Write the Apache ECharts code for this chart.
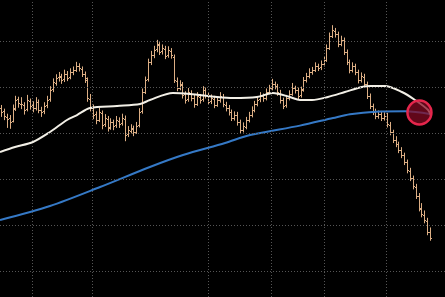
<!DOCTYPE html>
<html>
<head>
<meta charset="utf-8">
<script src="https://cdn.jsdelivr.net/npm/echarts@6/dist/echarts.min.js"></script>
<style>html,body{margin:0;padding:0;background:#000;}#c{width:445px;height:297px;}</style>
</head>
<body>
<div id="c"></div>
<script>
// Daily OHLC bars (bar index 0..149)
const opens = [135.6,134.9,133.6,133.3,132.8,135.4,137.5,136.4,136.2,135.3,137.1,136.2,135.6,136.8,135.0,134.8,136.1,137.4,139.6,141.0,
142.2,142.4,141.8,142.9,142.3,143.3,143.9,144.6,144.1,142.9,141.6,137.5,135.6,134.2,133.0,134.5,132.0,133.2,131.4,132.4,
131.8,132.8,132.2,133.2,129.8,130.6,131.0,130.4,131.8,134.8,139.1,141.8,145.5,147.0,148.3,149.3,147.9,148.5,147.0,148.0,
146.6,141.5,140.0,140.6,138.5,137.4,138.8,137.8,136.5,138.0,137.4,139.4,138.3,137.0,137.6,136.3,137.2,138.0,136.3,135.6,
134.6,133.3,134.1,132.4,130.8,131.5,133.0,134.1,135.2,136.5,137.4,138.1,137.8,139.1,140.0,140.7,140.2,138.9,137.2,136.1,
137.8,138.7,139.8,139.4,138.3,139.6,141.7,142.6,143.3,143.9,144.6,144.4,145.2,146.1,148.7,151.3,152.4,151.6,149.6,150.3,
147.7,145.5,143.9,144.6,143.3,141.7,142.4,140.7,138.1,135.9,134.8,133.7,134.3,133.3,133.9,131.9,130.2,128.5,127.6,126.3,
125.2,123.7,121.9,120.2,118.4,116.3,113.6,112.3,111.0,108.4];
const highs = [136.2,135.4,134.3,134.0,136.3,138.2,138.0,137.9,136.8,138.4,137.6,137.0,137.9,137.4,135.8,136.8,138.2,140.3,142.0,142.9,
143.4,143.0,143.9,143.6,144.2,144.6,145.6,145.3,144.6,143.5,142.2,138.6,136.3,134.8,135.6,135.0,134.2,133.8,133.3,133.0,
133.8,133.5,134.3,133.9,131.6,132.0,131.7,132.5,135.5,139.8,142.4,146.3,148.0,149.1,150.4,149.9,149.4,149.1,149.0,148.6,
147.2,142.2,141.6,141.2,139.2,139.9,139.4,138.4,139.0,138.6,140.3,140.0,138.9,138.5,138.2,138.0,139.0,138.6,136.9,136.2,
135.2,134.8,134.7,133.0,132.4,133.6,134.7,135.9,137.1,138.0,139.0,138.7,139.8,140.6,141.9,141.3,140.8,139.5,137.8,138.4,
139.4,141.0,140.4,140.0,140.2,142.3,143.2,144.2,144.5,145.5,145.2,145.9,146.8,149.4,152.0,153.6,153.0,152.2,151.3,150.9,
148.3,146.1,145.5,145.2,143.9,143.3,143.0,141.3,138.7,136.5,135.4,135.0,134.9,134.6,134.5,132.5,130.8,129.4,128.2,127.0,
125.8,124.3,122.5,120.8,119.0,117.0,114.8,113.2,111.6,109.5];
const lows = [133.6,132.9,131.2,131.0,132.4,134.9,135.6,135.3,134.1,134.8,135.2,134.6,135.0,134.4,133.6,134.2,135.5,136.9,139.0,140.4,
141.3,140.8,141.2,141.4,141.8,142.7,143.4,143.5,142.3,141.0,136.9,134.8,133.1,132.0,132.5,130.9,131.4,130.4,130.8,130.7,
131.2,131.2,131.7,128.3,129.2,130.0,129.4,129.9,131.3,134.3,138.6,141.3,144.9,146.4,147.7,147.1,147.2,146.2,146.5,146.3,
141.0,139.2,139.4,137.6,136.5,136.9,137.0,135.6,136.0,136.5,136.9,137.6,136.2,136.4,135.5,135.8,136.7,135.7,134.8,133.9,
132.7,132.8,131.7,129.9,130.2,130.9,132.4,133.5,134.6,135.9,136.8,136.9,137.2,138.5,139.4,139.6,138.2,136.5,135.3,135.6,
137.2,138.2,138.7,137.4,137.8,139.1,141.1,142.0,142.8,143.4,143.6,143.8,144.6,145.6,148.2,150.8,150.9,148.8,149.0,147.1,
144.9,143.1,143.3,142.7,140.9,141.1,140.1,137.5,135.3,134.0,133.1,133.2,132.7,132.8,131.3,129.6,127.9,127.0,125.7,124.6,
123.1,121.3,119.6,117.8,115.7,113.0,111.7,110.4,107.8,106.6];
const closes = [134.7,133.8,133.1,132.5,135.5,137.3,136.6,136.4,135.1,137.3,136.0,135.5,136.9,135.1,134.7,136.0,137.3,139.5,141.2,142.1,
142.5,141.6,143.0,142.1,143.4,143.8,144.7,144.3,143.0,142.1,137.7,135.5,134.0,132.9,134.7,131.8,133.4,131.2,132.5,131.6,
132.9,132.0,133.4,129.7,130.7,131.2,130.3,131.6,134.7,139.0,141.6,145.6,147.1,148.2,149.5,147.8,148.6,146.9,148.2,147.1,
141.6,139.9,140.8,138.4,137.3,139.0,137.7,136.4,138.2,137.3,139.5,138.4,136.9,137.7,136.2,137.3,138.2,136.4,135.5,134.7,
133.4,134.0,132.5,130.7,131.6,132.9,134.0,135.1,136.4,137.3,138.2,137.7,139.0,139.9,140.8,140.3,139.0,137.3,136.0,137.7,
138.6,139.9,139.5,138.2,139.5,141.6,142.5,143.4,143.8,144.7,144.3,145.1,146.0,148.6,151.2,152.5,151.7,149.5,150.4,147.8,
145.6,143.8,144.7,143.4,141.6,142.5,140.8,138.2,136.0,134.7,133.8,134.2,133.4,133.8,132.0,130.3,128.6,127.7,126.4,125.3,
123.8,122.0,120.3,118.5,116.4,113.7,112.4,111.1,108.5,107.2];

// Moving averages: [bar index, value]
const maShort = [[-0.35,125.95],[4.86,127.04],[11.1,128.13],[17.0,130.31],[22.9,132.92],[26.4,134.01],[30.9,135.54],[40.3,135.98],
[48.3,136.41],[51.7,137.29],[59.7,138.81],[65.6,138.59],[75.0,137.94],[80.6,137.72],[88.9,137.94],[94.4,138.81],[100.3,137.94],
[103.8,137.29],[108.0,137.29],[113.5,137.94],[119.4,139.03],[125.3,140.12],[128.2,140.34],[133.3,140.34],[139.2,139.03],[143.75,137.29],
[148.3,135.10],[149.3,133.8]];
const maLong = [[-0.35,111.12],[17.0,114.17],[34.4,118.31],[51.7,122.68],[63.2,125.29],[77.8,127.9],[86.5,129.65],
[103.8,131.7],[115.3,133.36],[121.2,134.17],[129.9,134.73],[140.3,134.82],[149.3,134.2]];

// Grid line positions
const hLines = [100,110,120,130,140,150];
const vLines = [10.87,31.7,72.0,93.75,112.15,133.9];

// Crossover marker
const marker = [[145.3,134.56]];

const bars = opens.map((o,i)=>[i,o,highs[i],lows[i],closes[i]]);

const chart = echarts.init(document.getElementById('c'), null, {renderer:'canvas'});
chart.setOption({
  animation:false,
  backgroundColor:'#000000',
  grid:{left:0,right:0,top:0,bottom:0},
  xAxis:{type:'value',min:-0.35,max:154.17,show:false,splitLine:{show:false}},
  yAxis:{type:'value',min:94.33,max:159.09,show:false,splitLine:{show:false}},
  series:[
    {
      type:'line', data:[], z:1, silent:true,
      markLine:{
        symbol:'none', silent:true, animation:false,
        label:{show:false},
        lineStyle:{type:[1,2], color:'#555555', width:1},
        data:[...hLines.map(v=>({yAxis:v})), ...vLines.map(v=>({xAxis:v}))]
      }
    },
    {
      type:'custom', z:2, silent:true,
      data:bars,
      renderItem:function(params, api){
        const x = api.value(0);
        const pO = api.coord([x, api.value(1)]);
        const pH = api.coord([x, api.value(2)]);
        const pL = api.coord([x, api.value(3)]);
        const pC = api.coord([x, api.value(4)]);
        const cx = Math.round(pH[0]) + 0.5;
        const st = {stroke:'#dcae84', lineWidth:1};
        return {type:'group', children:[
          {type:'line', shape:{x1:cx,y1:pH[1],x2:cx,y2:pL[1]}, style:st},
          {type:'line', shape:{x1:cx-1.5,y1:Math.round(pO[1])+0.5,x2:cx,y2:Math.round(pO[1])+0.5}, style:st},
          {type:'line', shape:{x1:cx,y1:Math.round(pC[1])+0.5,x2:cx+1.5,y2:Math.round(pC[1])+0.5}, style:st}
        ]};
      }
    },
    {
      type:'line', data:maLong, z:3, smooth:0.3, showSymbol:false, silent:true,
      lineStyle:{color:'#3579c6', width:2}
    },
    {
      type:'line', data:maShort, z:4, smooth:0.3, showSymbol:false, silent:true,
      lineStyle:{color:'#f2efe6', width:2}
    },
    {
      type:'scatter', data:marker, z:10, symbol:'circle', symbolSize:24, silent:true,
      itemStyle:{color:'rgba(135,10,35,0.72)', borderColor:'#e5264c', borderWidth:2.5, opacity:1}
    }
  ]
});
</script>
</body>
</html>
